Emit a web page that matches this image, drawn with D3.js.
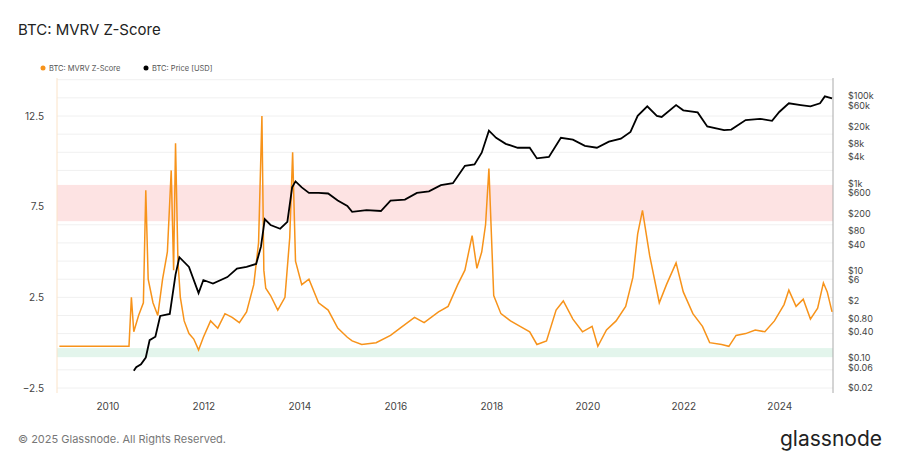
<!DOCTYPE html>
<html><head><meta charset="utf-8">
<script src="https://cdn.jsdelivr.net/npm/d3@7"></script>
<style>body{margin:0;background:#fff;font-family:Inter,"Noto Sans",sans-serif}</style>
</head><body><svg width="900" height="460"></svg>
<script>
// Z-score samples (decimal year, value)
var zDates = [2009.0,2010.45,2010.5,2010.55,2010.65,2010.75,2010.8,2010.85,2010.95,2011.05,2011.15,2011.25,2011.33,2011.38,2011.42,2011.47,2011.52,2011.6,2011.7,2011.8,2011.9,2012.0,2012.15,2012.3,2012.45,2012.6,2012.75,2012.9,2013.05,2013.15,2013.22,2013.26,2013.3,2013.4,2013.55,2013.7,2013.8,2013.86,2013.92,2014.05,2014.2,2014.4,2014.6,2014.8,2015.0,2015.1,2015.3,2015.6,2015.9,2016.1,2016.4,2016.6,2016.9,2017.1,2017.3,2017.45,2017.6,2017.7,2017.8,2017.88,2017.95,2018.05,2018.2,2018.4,2018.6,2018.8,2018.95,2019.15,2019.35,2019.5,2019.7,2019.9,2020.1,2020.22,2020.4,2020.6,2020.8,2020.95,2021.05,2021.15,2021.3,2021.5,2021.65,2021.85,2022.0,2022.2,2022.4,2022.55,2022.8,2022.95,2023.1,2023.3,2023.5,2023.7,2023.9,2024.1,2024.2,2024.35,2024.5,2024.65,2024.8,2024.92,2025.0,2025.1];
var zValues = [-0.2,-0.2,2.5,0.6,1.5,2.2,8.4,3.5,2.2,1.5,3.5,5,9.5,4,11,4.5,2.5,1.2,0.5,0.2,-0.4,0.3,1.2,0.8,1.6,1.4,1.1,1.7,3.2,5.5,12.5,4,3,2.6,1.8,2.5,5.8,10.5,4.5,3.2,3.5,2.2,1.8,0.8,0.3,0.1,-0.1,0,0.4,0.8,1.4,1.1,1.7,2,3.2,4,5.9,4.1,5,6.5,9.6,2.6,1.6,1.2,0.9,0.6,-0.1,0.1,1.8,2.3,1.3,0.6,0.9,-0.2,0.7,1.2,2,3.6,6,7.3,4.8,2.2,3.2,4.4,2.8,1.6,0.9,0,-0.1,-0.2,0.4,0.5,0.7,0.6,1.2,2.1,2.9,2,2.4,1.3,1.9,3.3,2.8,1.7];
// Price samples (decimal year, USD)
var pDates = [2010.55,2010.6,2010.7,2010.8,2010.88,2011.0,2011.1,2011.3,2011.42,2011.5,2011.7,2011.9,2012.0,2012.2,2012.5,2012.7,2012.9,2013.1,2013.2,2013.28,2013.4,2013.6,2013.75,2013.85,2013.92,2014.05,2014.2,2014.4,2014.6,2014.8,2015.0,2015.1,2015.4,2015.7,2015.9,2016.2,2016.45,2016.7,2016.95,2017.2,2017.45,2017.65,2017.8,2017.95,2018.1,2018.3,2018.55,2018.8,2018.95,2019.2,2019.45,2019.7,2019.95,2020.2,2020.45,2020.7,2020.9,2021.05,2021.25,2021.45,2021.55,2021.85,2022.0,2022.3,2022.5,2022.85,2023.0,2023.3,2023.6,2023.85,2024.0,2024.2,2024.45,2024.65,2024.85,2024.95,2025.1];
var pValues = [0.05,0.06,0.07,0.1,0.25,0.3,0.9,1,8,20,12,3,6,5,7,11,12,14,35,150,110,90,130,800,1100,800,600,600,580,400,300,220,240,230,400,420,600,650,900,1000,2500,2700,5000,16000,11000,8000,6500,6500,3700,4000,11000,10000,7200,6500,9000,10500,15000,35000,58000,35000,33000,62000,47000,42000,20000,16500,17000,28000,30000,27000,43000,68000,62000,58000,68000,98000,88000];
var zTicks = [-2.5,2.5,7.5,12.5];
var pTicks = [0.02,0.06,0.1,0.4,0.8,2,6,10,40,80,200,600,1000,4000,8000,20000,60000,100000];
var pLabels = ["$0.02","$0.06","$0.10","$0.40","$0.80","$2","$6","$10","$40","$80","$200","$600","$1k","$4k","$8k","$20k","$60k","$100k"];
var years = [2010,2012,2014,2016,2018,2020,2022,2024];

var svg = d3.select("svg");
var L = 57, R = 833, T = 78, B = 393;
var x = d3.scaleLinear().domain([2008.95, 2025.12]).range([L, R]);
var yZ = d3.scaleLinear().domain([-2.5, 12.5]).range([388, 116]);
var yP = d3.scaleLog().domain([0.02, 100000]).range([388, 96]);

// grid
for (var v = -2.5; v <= 14.5; v += 1) {
  svg.append("line").attr("x1", L).attr("x2", R).attr("y1", yZ(v)).attr("y2", yZ(v))
    .attr("stroke", "#f0f0f0").attr("stroke-width", 1);
}
// bands
svg.append("rect").attr("x", L).attr("width", R - L).attr("y", yZ(8.7)).attr("height", yZ(6.7) - yZ(8.7)).attr("fill", "#fde3e3");
svg.append("rect").attr("x", L).attr("width", R - L).attr("y", yZ(-0.3)).attr("height", yZ(-0.8) - yZ(-0.3)).attr("fill", "#e3f5ec");

svg.append("line").attr("x1", L).attr("x2", L).attr("y1", T).attr("y2", B).attr("stroke", "#fbe3c8");
svg.append("line").attr("x1", R).attr("x2", R).attr("y1", T).attr("y2", B).attr("stroke", "#aaa");

var zLine = d3.line().x(d => x(d[0])).y(d => yZ(d[1]));
svg.append("path").datum(d3.zip(zDates, zValues)).attr("d", zLine)
  .attr("fill", "none").attr("stroke", "#f7931a").attr("stroke-width", 1.5);
var pLine = d3.line().x(d => x(d[0])).y(d => yP(d[1]));
svg.append("path").datum(d3.zip(pDates, pValues)).attr("d", pLine)
  .attr("fill", "none").attr("stroke", "#000").attr("stroke-width", 1.8);

// axes
var ax = svg.append("g").attr("transform", "translate(0," + B + ")")
  .call(d3.axisBottom(x).tickValues(years).tickFormat(d3.format("d")).tickSize(0).tickPadding(10));
ax.select(".domain").remove();
var ay = svg.append("g").attr("transform", "translate(" + (L - 10) + ",0)")
  .call(d3.axisLeft(yZ).tickValues(zTicks).tickFormat(d3.format(".1f")).tickSize(0));
ay.select(".domain").remove();
var ap = svg.append("g").attr("transform", "translate(" + (R + 12) + ",0)")
  .call(d3.axisRight(yP).tickValues(pTicks).tickFormat((d, i) => pLabels[i]).tickSize(0));
ap.select(".domain").remove();
svg.selectAll(".tick text").attr("fill", "#444").style("font-size", "10px").style("font-family", "Inter,sans-serif");
ap.selectAll(".tick text").style("font-size", "9px");

// text
svg.append("text").attr("x", 18).attr("y", 35).text("BTC: MVRV Z-Score").attr("font-size", 15).attr("fill", "#222");
svg.append("circle").attr("cx", 43).attr("cy", 68).attr("r", 2.5).attr("fill", "#f7931a");
svg.append("text").attr("x", 49).attr("y", 71).text("BTC: MVRV Z-Score").attr("font-size", 7.5).attr("fill", "#555");
svg.append("circle").attr("cx", 146).attr("cy", 68).attr("r", 2.5).attr("fill", "#000");
svg.append("text").attr("x", 152).attr("y", 71).text("BTC: Price [USD]").attr("font-size", 7.5).attr("fill", "#555");
svg.append("text").attr("x", 18).attr("y", 443).text("© 2025 Glassnode. All Rights Reserved.").attr("font-size", 11).attr("fill", "#777");
svg.append("text").attr("x", 882).attr("y", 446).attr("text-anchor", "end").text("glassnode").attr("font-size", 21).attr("fill", "#222");
</script></body></html>
